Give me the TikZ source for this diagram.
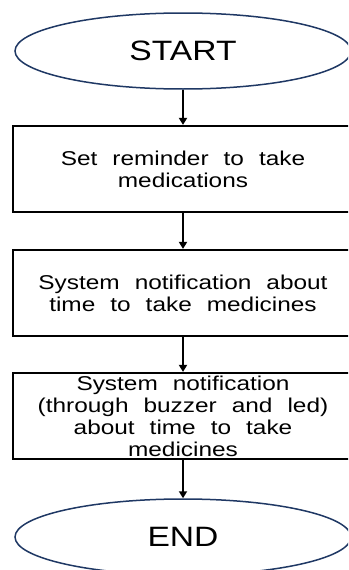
\documentclass[tikz,border=0pt]{standalone}
\usepackage{fontspec}
\usetikzlibrary{shapes.geometric,arrows.meta}
\newfontfamily\boxfont[FakeStretch=1.22]{Liberation Sans}
\newfontfamily\termfont[FakeStretch=1.2]{Liberation Sans}
\newcommand\boxtextstyle{\boxfont\fontsize{20}{22}\selectfont\spaceskip=15pt plus 2pt minus 1pt\relax}
\definecolor{navy}{RGB}{31,56,100}
\tikzset{
  term/.style={ellipse,draw=navy,line width=1.5pt,minimum width=336pt,minimum height=76pt,inner sep=0pt,
    font=\termfont\fontsize{28}{32}\selectfont},
  stepbox/.style={rectangle,draw=black,line width=2.2pt,minimum width=340pt,minimum height=86pt,inner sep=0pt,
    align=center,font=\boxtextstyle},
  arr/.style={line width=2pt,-{Triangle[length=7pt,width=8pt]}}
}
\begin{document}
\begin{tikzpicture}[x=1pt,y=-1pt]
\useasboundingbox (0,0) rectangle (348,570);
\clip (0,0) rectangle (348,570);
\node[term] (start) at (183,51) {START};
\node[stepbox] (b1) at (183,169) {Set reminder to take\\medications};
\node[stepbox] (b2) at (183,293) {System notification about\\time to take medicines};
\node[stepbox] (b3) at (183,416) {System notification\\(through buzzer and led)\\about time to take\\medicines};
\node[term] (end) at (183,537) {END};
\draw[arr] (start) -- (b1);
\draw[arr] (b1) -- (b2);
\draw[arr] (b2) -- (b3);
\draw[arr] (b3) -- (end);
\end{tikzpicture}
\end{document}
